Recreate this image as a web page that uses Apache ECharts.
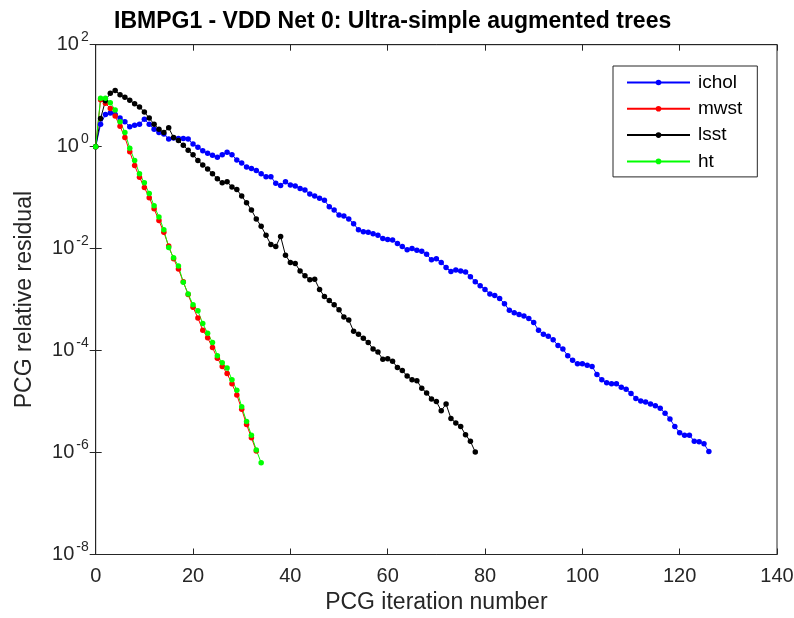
<!DOCTYPE html>
<html>
<head>
<meta charset="utf-8">
<script src="https://cdn.jsdelivr.net/npm/echarts@6/dist/echarts.min.js"></script>
<style>html,body{margin:0;padding:0;background:#fff;}#c{width:794px;height:618px;}</style>
</head>
<body>
<div id="c"></div>
<script>
// Values, stored as log10 of the relative residual, index = iteration
const seriesNames = ['ichol', 'mwst', 'lsst', 'ht'];
const icholExp = [0,0.44,0.63,0.66,0.63,0.56,0.49,0.39,0.42,0.44,
0.54,0.44,0.34,0.28,0.25,0.15,0.17,0.16,0.16,0.15,
0.05,-0.01,-0.08,-0.13,-0.17,-0.21,-0.16,-0.11,-0.16,-0.26,
-0.32,-0.4,-0.43,-0.47,-0.53,-0.59,-0.59,-0.72,-0.76,-0.69,
-0.75,-0.77,-0.82,-0.85,-0.93,-0.97,-1.01,-1.05,-1.18,-1.24,
-1.34,-1.36,-1.42,-1.51,-1.63,-1.67,-1.68,-1.71,-1.74,-1.8,
-1.82,-1.83,-1.9,-1.96,-2.02,-2.0,-2.03,-2.05,-2.11,-2.22,
-2.2,-2.27,-2.37,-2.45,-2.42,-2.44,-2.46,-2.55,-2.65,-2.73,
-2.8,-2.89,-2.92,-2.98,-3.08,-3.21,-3.26,-3.29,-3.32,-3.37,
-3.45,-3.6,-3.68,-3.72,-3.79,-3.9,-3.97,-4.1,-4.19,-4.26,
-4.26,-4.29,-4.31,-4.47,-4.57,-4.63,-4.65,-4.65,-4.72,-4.76,
-4.84,-4.94,-4.99,-5.01,-5.05,-5.08,-5.13,-5.23,-5.34,-5.49,
-5.61,-5.66,-5.66,-5.78,-5.79,-5.83,-5.98];
const mwstExp = [0,0.92,0.85,0.75,0.6,0.4,0.18,-0.1,-0.37,-0.6,
-0.8,-1.0,-1.22,-1.45,-1.68,-1.95,-2.2,-2.4,-2.65,-2.9,
-3.15,-3.36,-3.6,-3.75,-3.94,-4.15,-4.31,-4.45,-4.65,-4.87,
-5.15,-5.45,-5.71,-5.97];
const lsstExp = [0,0.55,0.9,1.05,1.1,1.02,0.97,0.91,0.84,0.78,
0.68,0.56,0.44,0.34,0.28,0.37,0.18,0.12,0.03,-0.07,
-0.16,-0.27,-0.36,-0.44,-0.53,-0.63,-0.71,-0.69,-0.79,-0.84,
-0.97,-1.1,-1.24,-1.42,-1.56,-1.74,-1.92,-1.96,-1.76,-2.13,
-2.27,-2.29,-2.44,-2.53,-2.61,-2.6,-2.8,-2.94,-3.02,-3.1,
-3.2,-3.34,-3.4,-3.62,-3.68,-3.76,-3.84,-3.97,-4.03,-4.17,
-4.16,-4.21,-4.33,-4.39,-4.5,-4.57,-4.59,-4.74,-4.83,-4.95,
-5.0,-5.18,-5.05,-5.33,-5.42,-5.49,-5.65,-5.78,-5.99];
const htExp = [0,0.95,0.95,0.86,0.72,0.49,0.28,-0.03,-0.27,-0.53,
-0.71,-0.92,-1.16,-1.38,-1.63,-1.98,-2.18,-2.34,-2.66,-2.89,
-3.1,-3.22,-3.47,-3.66,-3.84,-4.1,-4.24,-4.34,-4.57,-4.78,
-5.1,-5.39,-5.66,-5.95,-6.2];
const seriesColors = ['#0000ff', '#ff0000', '#000000', '#00ff00'];
const xTicks = [0, 20, 40, 60, 80, 100, 120, 140];
const yTickExps = [-8, -6, -4, -2, 0, 2];

const allExp = [icholExp, mwstExp, lsstExp, htExp];
const toPairs = arr => arr.map((e, i) => [i, Math.pow(10, e)]);

const FONT = '"Liberation Sans", Arial, Helvetica, sans-serif';
const AX = '#262626';

const chart = echarts.init(document.getElementById('c'), null, {renderer: 'canvas'});

const yLabelFmt = v => {
  const e = Math.round(Math.log10(v));
  return '{b|10}{s|' + e + '}';
};

const option = {
  animation: false,
  backgroundColor: '#ffffff',
  title: {
    text: 'IBMPG1 - VDD Net 0: Ultra-simple augmented trees',
    left: 114,
    top: 10,
    padding: 0,
    textStyle: {fontFamily: FONT, fontSize: 23, fontWeight: 'bold', color: '#000'}
  },
  legend: {
    data: seriesNames,
    orient: 'vertical',
    left: 613,
    top: 66,
    padding: [7, 15, 6, 13],
    itemWidth: 63,
    itemHeight: 7,
    itemGap: 7.3,
    borderColor: AX,
    borderWidth: 1,
    backgroundColor: '#fff',
    textStyle: {fontFamily: FONT, fontSize: 19, color: '#000', lineHeight: 18, padding: [0, 0, 0, 3]}
  },
  grid: {
    left: 95.7, right: 17, top: 44.7, bottom: 63.5,
    show: true, borderColor: AX, borderWidth: 1, backgroundColor: 'transparent',
    containLabel: false,
    outerBoundsMode: 'none'
  },
  xAxis: [{
    type: 'value', min: xTicks[0], max: xTicks[xTicks.length - 1], interval: 20,
    position: 'bottom',
    name: 'PCG iteration number', nameLocation: 'middle', nameGap: 34,
    nameTextStyle: {fontFamily: FONT, fontSize: 23, color: AX},
    axisLine: {show: true, lineStyle: {color: AX, width: 1}},
    axisTick: {show: true, inside: true, length: 6, lineStyle: {color: AX}},
    axisLabel: {fontFamily: FONT, fontSize: 20, color: AX, margin: 12},
    splitLine: {show: false}
  }, {
    type: 'value', min: xTicks[0], max: xTicks[xTicks.length - 1], interval: 20,
    position: 'top',
    axisLine: {show: true, lineStyle: {color: AX, width: 1}},
    axisTick: {show: true, inside: true, length: 6, lineStyle: {color: AX}},
    axisLabel: {show: false},
    splitLine: {show: false}
  }],
  yAxis: [{
    type: 'log', logBase: 10,
    min: Math.pow(10, yTickExps[0]), max: Math.pow(10, yTickExps[yTickExps.length - 1]),
    interval: 2,
    position: 'left',
    name: 'PCG relative residual', nameLocation: 'middle', nameGap: 60,
    nameTextStyle: {fontFamily: FONT, fontSize: 23, color: AX},
    axisLine: {show: true, lineStyle: {color: AX, width: 1}},
    axisTick: {show: true, inside: true, length: 6, lineStyle: {color: AX}},
    minorTick: {show: false},
    axisLabel: {
      formatter: yLabelFmt, margin: 7,
      rich: {
        b: {fontFamily: FONT, fontSize: 20, color: AX},
        s: {fontFamily: FONT, fontSize: 14, color: AX, padding: [0, 0, 15, 2]}
      }
    },
    splitLine: {show: false}
  }, {
    type: 'log', logBase: 10,
    min: Math.pow(10, yTickExps[0]), max: Math.pow(10, yTickExps[yTickExps.length - 1]),
    interval: 2,
    position: 'right',
    axisLine: {show: true, lineStyle: {color: AX, width: 1}},
    axisTick: {show: true, inside: true, length: 6, lineStyle: {color: AX}},
    axisLabel: {show: false},
    splitLine: {show: false}
  }],
  series: seriesNames.map((name, k) => ({
    name: name,
    type: 'line',
    xAxisIndex: 0,
    yAxisIndex: 0,
    data: toPairs(allExp[k]),
    symbol: 'circle',
    symbolSize: 5.5,
    showSymbol: true,
    showAllSymbol: true,
    color: seriesColors[k],
    itemStyle: {color: seriesColors[k], borderWidth: 0},
    lineStyle: {color: seriesColors[k], width: 1},
    emphasis: {disabled: true}
  }))
};
chart.setOption(option);
</script>
</body>
</html>
